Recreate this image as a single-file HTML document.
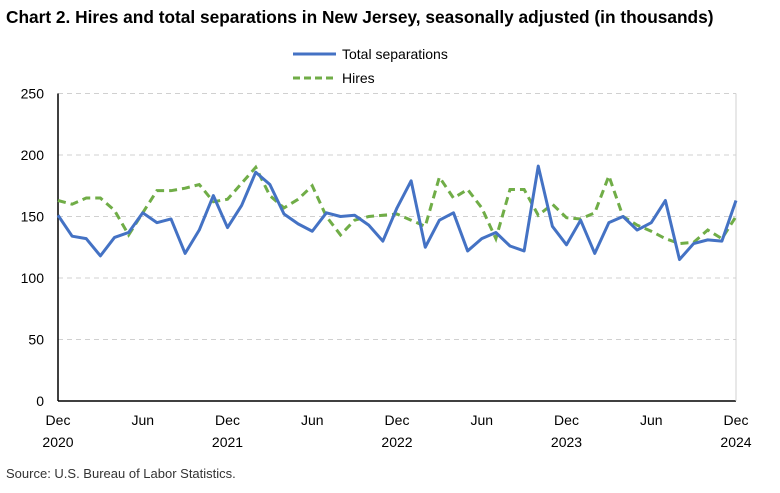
<!DOCTYPE html>
<html><head><meta charset="utf-8"><style>
body{margin:0;background:#fff;font-family:"Liberation Sans",Arial,sans-serif}
svg text{font-family:"Liberation Sans",Arial,sans-serif}
</style></head><body>
<svg id="c" width="780" height="488">
<text x="6" y="23" font-size="17.3" font-weight="bold" fill="#000">Chart 2. Hires and total separations in New Jersey, seasonally adjusted (in thousands)</text>
<g>
<line x1="293" y1="54" x2="336" y2="54" stroke="#4472c4" stroke-width="3"/>
<text x="342" y="59" font-size="14">Total separations</text>
<line x1="293" y1="78" x2="336" y2="78" stroke="#70ad47" stroke-width="3" stroke-dasharray="7,4"/>
<text x="342" y="83" font-size="14">Hires</text>
</g>
<g id="grid"></g><g id="axes"></g><g id="series"></g>
<text x="6" y="478" font-size="13" fill="#333">Source: U.S. Bureau of Labor Statistics.</text>
</svg>
<script>
const separations=[151,134,132,118,133,137,153,145,148,120,139,167,141,159,186,176,152,144,138,153,150,151,143,130,157,179,125,147,153,122,132,137,126,122,191,142,127,147,120,145,150,139,145,163,115,128,131,130,163];
const hires=[163,160,165,165,155,135,153,171,171,173,176,162,164,177,190,167,157,164,175,150,135,147,150,151,152,147,142,182,165,172,157,132,172,172,151,160,149,148,153,183,150,143,138,132,128,129,139,132,150];
const yTicks=[0,50,100,150,200,250];
const xLabels=[[0,"Dec","2020"],[6,"Jun",""],[12,"Dec","2021"],[18,"Jun",""],[24,"Dec","2022"],[30,"Jun",""],[36,"Dec","2023"],[42,"Jun",""],[48,"Dec","2024"]];
const NS="http://www.w3.org/2000/svg";
const x0=58,x1=736,y0=401,yTop=93.5,yMax=250;
const xs=i=>x0+(x1-x0)*i/(separations.length-1);
const ys=v=>y0-(y0-yTop)*v/yMax;
function mk(t,a,p){const e=document.createElementNS(NS,t);for(const k in a)e.setAttribute(k,a[k]);p.appendChild(e);return e;}
const grid=document.getElementById('grid'),axes=document.getElementById('axes'),ser=document.getElementById('series');
yTicks.forEach(v=>{
 if(v>0){const g=mk('line',{x1:x0,x2:x1,y1:ys(v),y2:ys(v),stroke:'#d0d0d0','stroke-dasharray':'5,4'},grid);
 
 }
 const t=mk('text',{x:x0-14,y:ys(v)+5,'font-size':14,'text-anchor':'end'},axes);t.textContent=v;
 
 
});
const ax=mk('line',{x1:x0,x2:x0,y1:yTop,y2:y0,stroke:'#000','stroke-width':1.5},axes);


const bx=mk('line',{x1:x0,x2:x1,y1:y0,y2:y0,stroke:'#000','stroke-width':1.5},axes);


const rb=mk('line',{x1:x1,x2:x1,y1:yTop,y2:y0,stroke:'#d0d0d0'},axes);


xLabels.forEach(([i,m,yr])=>{
 const t=mk('text',{x:xs(i),y:425,'font-size':14,'text-anchor':'middle'},axes);t.textContent=m;
 
 
 if(yr){const u=mk('text',{x:xs(i),y:447,'font-size':14,'text-anchor':'middle'},axes);u.textContent=yr;
 
 }
});
const h=mk('polyline',{points:hires.map((v,i)=>xs(i)+','+ys(v)).join(' '),fill:'none',stroke:'#70ad47','stroke-width':3,'stroke-dasharray':'8,5'},ser);


const s=mk('polyline',{points:separations.map((v,i)=>xs(i)+','+ys(v)).join(' '),fill:'none',stroke:'#4472c4','stroke-width':3,'stroke-linejoin':'round'},ser);


</script>
</body></html>
